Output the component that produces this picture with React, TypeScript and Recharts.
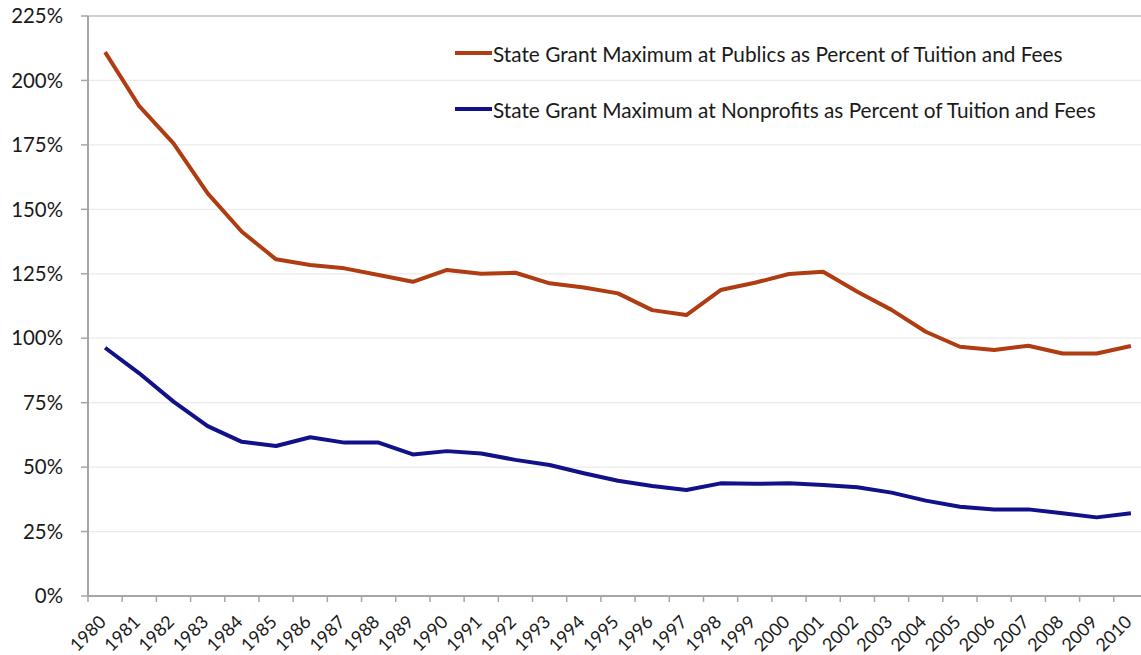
import { CartesianGrid, Legend, Line, LineChart, ReferenceLine, XAxis, YAxis } from "recharts";

// Years on the category axis
const years = [
  "1980", "1981", "1982", "1983", "1984", "1985", "1986", "1987", "1988", "1989",
  "1990", "1991", "1992", "1993", "1994", "1995", "1996", "1997", "1998", "1999",
  "2000", "2001", "2002", "2003", "2004", "2005", "2006", "2007", "2008", "2009", "2010",
];

// State grant maximum at publics, % of tuition and fees
const publicsPct = [
  211, 190, 175.6, 156.2, 141.3, 130.6, 128.4, 127.1, 124.5, 121.9,
  126.5, 125, 125.4, 121.3, 119.7, 117.4, 110.9, 109, 118.7, 121.5,
  124.9, 125.8, 118, 111, 102.5, 96.7, 95.4, 97.1, 94.1, 94.1, 97,
];

// State grant maximum at nonprofits, % of tuition and fees
const nonprofitsPct = [
  96.3, 86.4, 75.4, 65.9, 59.8, 58.2, 61.6, 59.5, 59.5, 54.9,
  56.2, 55.3, 52.8, 50.8, 47.6, 44.7, 42.7, 41.1, 43.7, 43.5,
  43.7, 43.1, 42.2, 40.1, 37, 34.6, 33.6, 33.6, 32.1, 30.5, 32.1,
];

const yTicks = [0, 25, 50, 75, 100, 125, 150, 175, 200, 225];

const seriesNames = {
  publics: "State Grant Maximum at Publics as Percent of Tuition and Fees",
  nonprofits: "State Grant Maximum at Nonprofits as Percent of Tuition and Fees",
};

const RED = "#b03c12";
const BLUE = "#11118a";
const AXIS = "#a6a6a6";
const FONT = "Lato, 'Open Sans', sans-serif";

const CHART_W = 1150;
const CHART_H = 655;
const PLOT_LEFT = 88;
const PLOT_RIGHT_MARGIN = 2;
const bandWidth = (CHART_W - PLOT_LEFT - PLOT_RIGHT_MARGIN) / years.length;

function YearTick(props: any) {
  const { x, y, payload } = props;
  const bx = x - bandWidth / 2;
  return (
    <g>
      <line x1={bx} y1={y} x2={bx} y2={y + 6} stroke={AXIS} strokeWidth={1.5} />
      <text
        x={0}
        y={0}
        transform={`translate(${x + 2}, ${y + 27}) rotate(-45)`}
        textAnchor="end"
        fontSize={18}
        fontFamily={FONT}
        fill="#1a1a1a"
      >
        {payload.value}
      </text>
    </g>
  );
}

function LegendBox() {
  const items = [
    { name: seriesNames.publics, color: RED },
    { name: seriesNames.nonprofits, color: BLUE },
  ];
  return (
    <div style={{ fontFamily: FONT, fontSize: 20.8, color: "#1a1a1a" }}>
      {items.map((it) => (
        <div key={it.name} style={{ display: "flex", alignItems: "center", height: 26, marginBottom: 30 }}>
          <svg width={38} height={10} style={{ marginRight: 0 }}>
            <line x1={0} y1={5} x2={37} y2={5} stroke={it.color} strokeWidth={4} />
          </svg>
          <span style={{ whiteSpace: "nowrap" }}>{it.name}</span>
        </div>
      ))}
    </div>
  );
}

export default function App() {
  const data = years.map((year, i) => ({
    year,
    publics: publicsPct[i],
    nonprofits: nonprofitsPct[i],
  }));

  return (
    <div style={{ position: "fixed", left: 0, top: 0, width: 1141, height: 655, overflow: "hidden", background: "#fff" }}>
      <LineChart
        width={CHART_W}
        height={CHART_H}
        data={data}
        margin={{ top: 16, right: PLOT_RIGHT_MARGIN, left: 0, bottom: 0 }}
      >
        <CartesianGrid vertical={false} stroke="#ebebeb" strokeWidth={1.2} />
        <ReferenceLine y={225} stroke="#c4c4c4" strokeWidth={1.5} />
        <XAxis
          dataKey="year"
          height={59}
          interval={0}
          padding={{ left: bandWidth / 2, right: bandWidth / 2 }}
          tickSize={0}
          tickMargin={0}
          tick={<YearTick />}
          axisLine={{ stroke: AXIS, strokeWidth: 2 }}
          tickLine={false}
        />
        <YAxis
          width={PLOT_LEFT}
          domain={[0, 225]}
          ticks={yTicks}
          interval={0}
          tickFormatter={(v) => `${v}%`}
          tickSize={7}
          tickMargin={18}
          axisLine={{ stroke: AXIS, strokeWidth: 2 }}
          tickLine={{ stroke: AXIS, strokeWidth: 1.5 }}
          tick={{ fontSize: 20.4, fontFamily: FONT, fill: "#1a1a1a" }}
        />
        <Legend
          verticalAlign="middle"
          align="center"
          layout="horizontal"
          content={<LegendBox />}
          wrapperStyle={{ left: 455, top: 40, width: 690 }}
        />
        <Line
          type="linear"
          dataKey="publics"
          name={seriesNames.publics}
          stroke={RED}
          strokeWidth={4}
          strokeLinejoin="round"
          dot={false}
          isAnimationActive={false}
        />
        <Line
          type="linear"
          dataKey="nonprofits"
          name={seriesNames.nonprofits}
          stroke={BLUE}
          strokeWidth={4}
          strokeLinejoin="round"
          dot={false}
          isAnimationActive={false}
        />
      </LineChart>
    </div>
  );
}
